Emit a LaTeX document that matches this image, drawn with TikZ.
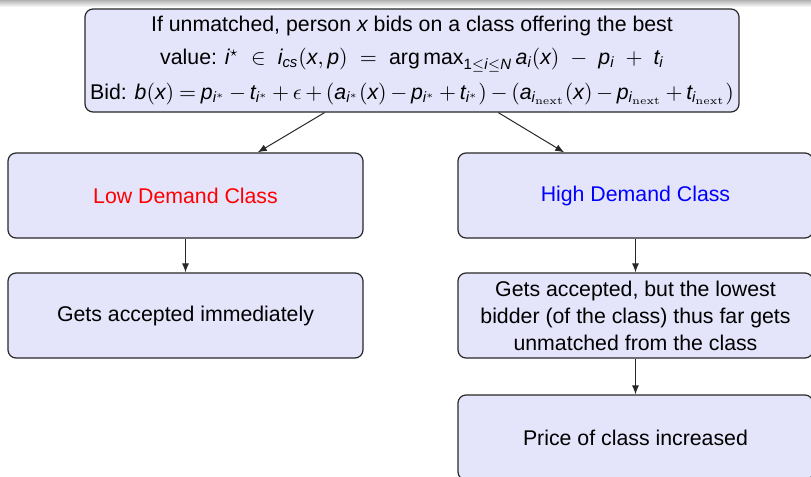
\documentclass[tikz,border=0pt]{standalone}
\usepackage{amsmath,amssymb}
\usepackage{mathspec}
\setmainfont{Liberation Sans}
\setsansfont{Liberation Sans}
\setmathsfont(Digits,Latin){Liberation Sans}
\newfontfamily\lmfont{Latin Modern Roman}
\usetikzlibrary{arrows.meta}
\definecolor{boxfill}{RGB}{228,228,250}
\definecolor{boxline}{RGB}{40,40,40}
\newcommand{\nxt}{\text{\lmfont next}}
\newcommand{\argmx}{\mathop{\text{arg\,max}}\nolimits}

\tikzset{
 stepbox/.style={draw=boxline,fill=boxfill,rounded corners=4pt,line width=0.6pt,
 minimum width=177.5pt,minimum height=42.5pt,align=center,
 font=\fontsize{10.65pt}{13.5pt}\selectfont},
 flow/.style={-{Latex[length=4.5pt,width=3.5pt]},line width=0.5pt,draw=boxline}
}

\begin{document}
\begin{tikzpicture}[x=0.5pt,y=-0.5pt]
 \useasboundingbox (0,0) rectangle (811,477);
 \clip (0,0) rectangle (811,477);
 \shade[top color=black!30,bottom color=white] (0,0) rectangle (811,7);
 % bidding rule
 \node[stepbox,minimum width=327pt,minimum height=51.5pt,inner sep=1pt] (bid) at (412,60.5)
 {If unmatched, person $x$ bids on a class offering the best\\[3pt]
 value: $i^\star \;\in\; i_{cs}(x,p) \;=\; \argmx_{1\le i\le N} a_i(x) \;-\; p_i \;+\; t_i$\\[4pt]
 Bid: $\medmuskip=3mu \thickmuskip=4mu b(x) = p_{i^*} - t_{i^*} + \epsilon + (a_{i^*}(x) - p_{i^*} + t_{i^*}) - (a_{i_{\nxt}}(x) - p_{i_{\nxt}} + t_{i_{\nxt}})$};
 % two classes
 \node[stepbox,text=red] (low) at (185.5,195.5) {Low Demand Class};
 \node[stepbox,text=blue] (high) at (635.5,195.5) {High Demand Class};
 \node[stepbox] (acc) at (185.5,315.5) {Gets accepted immediately};
 \node[stepbox] (unm) at (635.5,315.5) {Gets accepted, but the lowest\\ bidder (of the class) thus far gets\\ unmatched from the class};
 \node[stepbox] (price) at (635.5,437.5) {Price of class increased};
 \draw[flow] (bid) -- (low);
 \draw[flow] (bid) -- (high);
 \draw[flow] (low) -- (acc);
 \draw[flow] (high) -- (unm);
 \draw[flow] (unm) -- (price);
\end{tikzpicture}
\end{document}
